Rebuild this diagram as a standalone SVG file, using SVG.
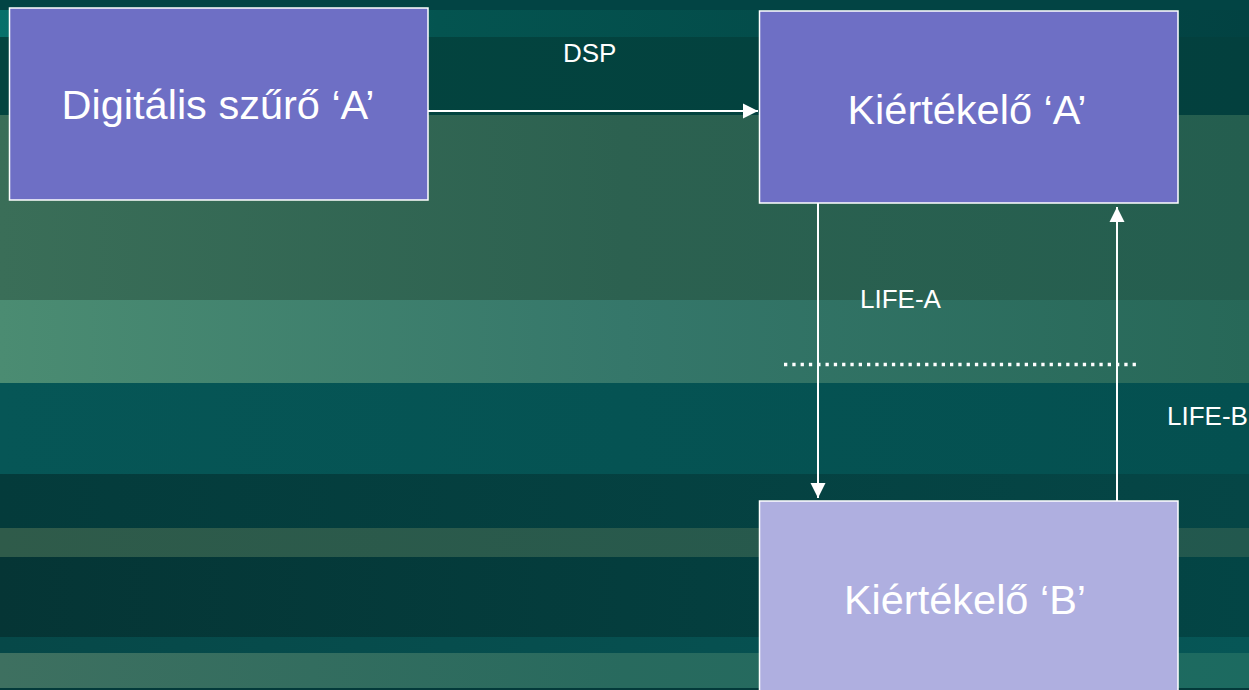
<svg xmlns="http://www.w3.org/2000/svg" width="1249" height="690" viewBox="0 0 1249 690">
  <defs>
    <linearGradient id="b1" x1="0" x2="1" y1="0" y2="0"><stop offset="0" stop-color="#07716a"/><stop offset="0.35" stop-color="#045450"/><stop offset="1" stop-color="#024242"/></linearGradient>
    <linearGradient id="b2" x1="0" x2="1"><stop offset="0" stop-color="#03453f"/><stop offset="1" stop-color="#03403e"/></linearGradient>
    <linearGradient id="b3" x1="0" x2="1"><stop offset="0" stop-color="#3a6e58"/><stop offset="0.5" stop-color="#2c6150"/><stop offset="1" stop-color="#245e4f"/></linearGradient>
    <linearGradient id="b4" x1="0" x2="1"><stop offset="0" stop-color="#4b8c72"/><stop offset="0.5" stop-color="#35776a"/><stop offset="1" stop-color="#276858"/></linearGradient>
    <linearGradient id="b5" x1="0" x2="1"><stop offset="0" stop-color="#065656"/><stop offset="1" stop-color="#045050"/></linearGradient>
    <linearGradient id="b6" x1="0" x2="1"><stop offset="0" stop-color="#043b3b"/><stop offset="1" stop-color="#054646"/></linearGradient>
    <linearGradient id="b7" x1="0" x2="1"><stop offset="0" stop-color="#2f5b4a"/><stop offset="1" stop-color="#22584e"/></linearGradient>
    <linearGradient id="b8" x1="0" x2="1"><stop offset="0" stop-color="#053535"/><stop offset="1" stop-color="#034545"/></linearGradient>
    <linearGradient id="b9" x1="0" x2="1"><stop offset="0" stop-color="#064848"/><stop offset="1" stop-color="#065656"/></linearGradient>
    <linearGradient id="b10" x1="0" x2="1"><stop offset="0" stop-color="#3e7060"/><stop offset="0.5" stop-color="#286a5e"/><stop offset="1" stop-color="#1c6a60"/></linearGradient>
    <marker id="arr" markerUnits="userSpaceOnUse" markerWidth="16" markerHeight="16" viewBox="0 0 16 16" refX="15" refY="8" orient="auto">
      <path d="M0,0.5 L15,8 L0,15.5 Z" fill="#ffffff"/>
    </marker>
    <style>
      .node{stroke:#ffffff;stroke-width:1.5}
      .n1{fill:#6e6fc5}
      .n2{fill:#afafe0}
      .big{font-family:"Liberation Sans",Arial,sans-serif;font-size:41.5px;fill:#ffffff;text-anchor:middle}
      .lbl{font-family:"Liberation Sans",Arial,sans-serif;font-size:26px;fill:#ffffff}
      .edge{stroke:#ffffff;stroke-width:2;fill:none}
    </style>
  </defs>
  <g id="background">
    <rect x="0" y="0" width="1249" height="10" fill="#024444"/>
    <rect x="0" y="10" width="1249" height="27" fill="url(#b1)"/>
    <rect x="0" y="37" width="1249" height="78" fill="url(#b2)"/>
    <rect x="0" y="115" width="1249" height="185" fill="url(#b3)"/>
    <rect x="0" y="300" width="1249" height="83" fill="url(#b4)"/>
    <rect x="0" y="383" width="1249" height="91" fill="url(#b5)"/>
    <rect x="0" y="474" width="1249" height="54" fill="url(#b6)"/>
    <rect x="0" y="528" width="1249" height="29" fill="url(#b7)"/>
    <rect x="0" y="557" width="1249" height="80" fill="url(#b8)"/>
    <rect x="0" y="637" width="1249" height="16" fill="url(#b9)"/>
    <rect x="0" y="653" width="1249" height="35" fill="url(#b10)"/>
    <rect x="0" y="688" width="1249" height="2" fill="#033a3a"/>
  </g>
  <g id="connectors">
    <line class="edge" x1="428" y1="111" x2="758" y2="111" marker-end="url(#arr)"/>
    <line class="edge" x1="818" y1="203" x2="818" y2="498" marker-end="url(#arr)"/>
    <line class="edge" x1="1117" y1="501" x2="1117" y2="207" marker-end="url(#arr)"/>
    <line x1="784" y1="364.5" x2="1140" y2="364.5" stroke="#ffffff" stroke-width="3.5" stroke-dasharray="3.3 5"/>
    <text class="lbl" x="563" y="62">DSP</text>
    <text class="lbl" x="860" y="308">LIFE-A</text>
    <text class="lbl" x="1167" y="425">LIFE-B</text>
  </g>
  <g id="node-digitalis-szuro-a">
    <rect class="node n1" x="9.5" y="8" width="418.5" height="192"/>
    <text class="big" x="218" y="119">Digitális szűrő ‘A’</text>
  </g>
  <g id="node-kiertekelo-a">
    <rect class="node n1" x="759.5" y="11" width="418.5" height="192"/>
    <text class="big" x="967" y="124">Kiértékelő ‘A’</text>
  </g>
  <g id="node-kiertekelo-b">
    <rect class="node n2" x="759.5" y="501" width="418.5" height="200"/>
    <text class="big" x="965" y="614">Kiértékelő ‘B’</text>
  </g>
</svg>
